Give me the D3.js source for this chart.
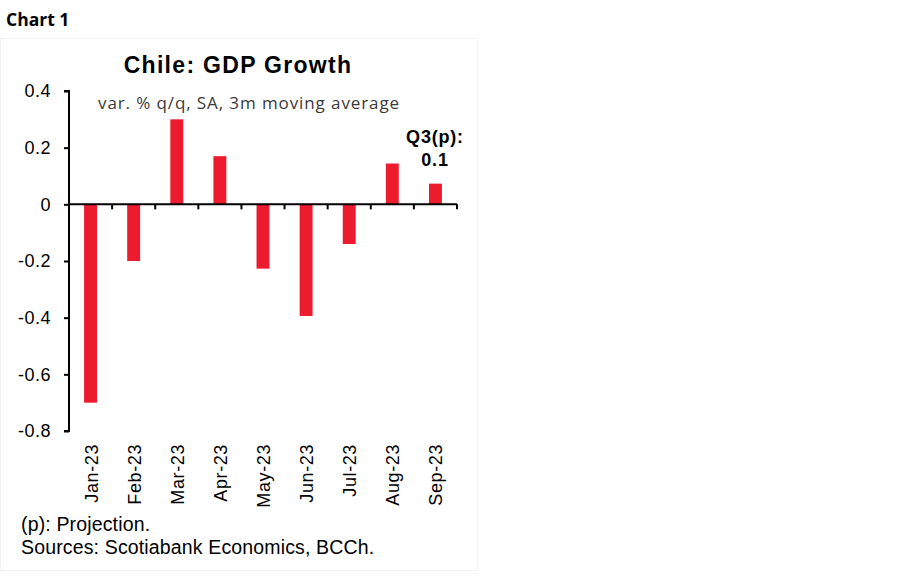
<!DOCTYPE html>
<html>
<head>
<meta charset="utf-8">
<script src="https://cdn.jsdelivr.net/npm/d3@7"></script>
<style>
  body { margin: 0; background: #fff; }
  svg { display: block; }
</style>
</head>
<body>
<div id="chart"></div>
<script>
// data
const months = ["Jan-23", "Feb-23", "Mar-23", "Apr-23", "May-23", "Jun-23", "Jul-23", "Aug-23", "Sep-23"];
const growth = [-0.70, -0.20, 0.30, 0.17, -0.227, -0.394, -0.14, 0.144, 0.073];
const yTicks = [0.4, 0.2, 0, -0.2, -0.4, -0.6, -0.8];

const data = months.map((m, i) => ({month: m, value: growth[i]}));

const svg = d3.select("#chart")
              .append("svg")
              .attr("width", 900)
              .attr("height", 579);

// faint frame round the chart image
svg.append("rect")
   .attr("x", 0.5)
   .attr("y", 38.5)
   .attr("width", 477)
   .attr("height", 532)
   .attr("fill", "none")
   .attr("stroke", "#f2f2f2");

svg.append("text")
   .attr("x", 6)
   .attr("y", 26)
   .attr("font-family", "'Open Sans', sans-serif")
   .attr("font-weight", "bold")
   .attr("font-size", 17.5)
   .text("Chart 1");

svg.append("text")
   .attr("x", 238)
   .attr("y", 73)
   .attr("text-anchor", "middle")
   .attr("font-family", "'Liberation Sans', Arial, sans-serif")
   .attr("font-weight", "bold")
   .attr("font-size", 23)
   .attr("letter-spacing", 1.3)
   .text("Chile: GDP Growth");

svg.append("text")
   .attr("x", 249)
   .attr("y", 109)
   .attr("text-anchor", "middle")
   .attr("font-family", "'Open Sans', sans-serif")
   .attr("font-size", 17)
   .attr("letter-spacing", 0.9)
   .attr("fill", "#3a3a3a")
   .text("var. % q/q, SA, 3m moving average");

const left = 69, right = 457;

const x = d3.scaleBand()
            .domain(months)
            .range([left, right]);

const y = d3.scaleLinear()
            .domain([-0.8, 0.4])
            .range([431, 91]);

// y axis
const yAxis = svg.append("g")
   .attr("transform", `translate(${left},0)`)
   .call(d3.axisLeft(y).tickValues(yTicks).tickSize(5).tickFormat(d => String(d)));
yAxis.select(".domain").attr("stroke-width", 2).attr("d", `M-5,${y(0.4)}H0V${y(-0.8)}H-5`);
yAxis.selectAll(".tick line").attr("stroke-width", 2);
yAxis.selectAll(".tick text")
     .attr("font-family", "'Liberation Sans', Arial, sans-serif")
     .attr("font-size", 18)
     .attr("letter-spacing", 0.5)
     .attr("fill", "#000")
     .attr("x", -18);

// bars
svg.selectAll("rect.bar")
   .data(data)
   .enter()
   .append("rect")
   .attr("class", "bar")
   .attr("x", d => x(d.month) + x.bandwidth() * 0.35)
   .attr("width", x.bandwidth() * 0.3)
   .attr("y", d => y(Math.max(0, d.value)))
   .attr("height", d => Math.abs(y(d.value) - y(0)))
   .attr("fill", "#ec1c2e");

// x axis at zero, ticks between categories
const xAxis = svg.append("g");
xAxis.append("line")
     .attr("x1", left).attr("x2", right)
     .attr("y1", y(0)).attr("y2", y(0))
     .attr("stroke", "#000")
     .attr("stroke-width", 2);
xAxis.selectAll("line.tick")
     .data(months)
     .enter()
     .append("line")
     .attr("x1", d => x(d) + x.bandwidth())
     .attr("x2", d => x(d) + x.bandwidth())
     .attr("y1", y(0))
     .attr("y2", y(0) + 5)
     .attr("stroke", "#000")
     .attr("stroke-width", 2);

// month labels along the bottom
svg.selectAll("text.month")
   .data(months)
   .enter()
   .append("text")
   .attr("class", "month")
   .attr("transform", d => `translate(${x(d) + x.bandwidth() / 2 + 7},444) rotate(-90)`)
   .attr("text-anchor", "end")
   .attr("font-family", "'Liberation Sans', Arial, sans-serif")
   .attr("font-size", 18)
   .attr("letter-spacing", 0.6)
   .text(d => d);

// Q3 annotation
const ann = svg.append("text")
   .attr("text-anchor", "middle")
   .attr("font-family", "'Liberation Sans', Arial, sans-serif")
   .attr("font-weight", "bold")
   .attr("font-size", 18)
   .attr("letter-spacing", 0.8);
ann.append("tspan").attr("x", 435).attr("y", 143).text("Q3(p):");
ann.append("tspan").attr("x", 435).attr("y", 166).text("0.1");

// notes
const notes = ["(p): Projection.", "Sources: Scotiabank Economics, BCCh."];
svg.selectAll("text.note")
   .data(notes)
   .enter()
   .append("text")
   .attr("class", "note")
   .attr("x", 21)
   .attr("y", (d, i) => 531 + i * 23)
   .attr("font-family", "'Liberation Sans', Arial, sans-serif")
   .attr("font-size", 19.5)
   .attr("letter-spacing", 0.15)
   .text(d => d);
</script>
</body>
</html>
